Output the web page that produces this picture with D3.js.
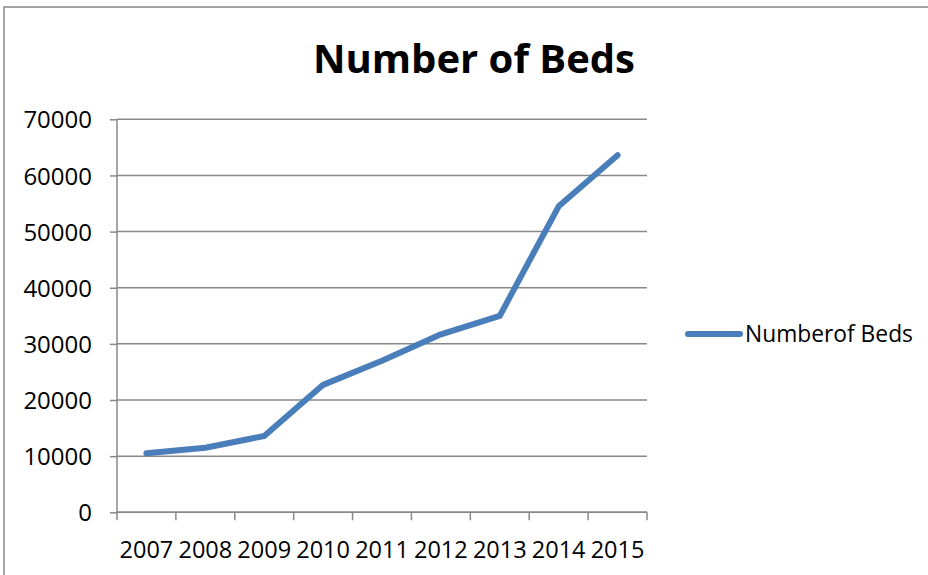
<!DOCTYPE html>
<html>
<head>
<meta charset="utf-8">
<script src="https://cdn.jsdelivr.net/npm/d3@7"></script>
<style>
  body { margin: 0; background: #fff; }
  text { font-family: "Open Sans", "Noto Sans", sans-serif; fill: #000; }
</style>
</head>
<body>
<svg id="chart" width="928" height="575"></svg>
<script>
// chart data
const years = ["2007", "2008", "2009", "2010", "2011", "2012", "2013", "2014", "2015"];
const beds = [10500, 11500, 13600, 22700, 27000, 31700, 35000, 54500, 63600];
const yTicks = [0, 10000, 20000, 30000, 40000, 50000, 60000, 70000];

const svg = d3.select("#chart");
const gridColor = "#888888";
const lineColor = "#4a7ebb";

// outer frame of the chart area
svg.append("rect")
    .attr("x", 4).attr("y", 7)
    .attr("width", 940).attr("height", 600)
    .attr("fill", "none")
    .attr("stroke", gridColor)
    .attr("stroke-width", 1.5);

const plotLeft = 117, plotRight = 647, plotTop = 119.3, plotBottom = 512.3;

const x = d3.scaleBand().domain(years).range([plotLeft, plotRight]);
const y = d3.scaleLinear().domain([0, 70000]).range([plotBottom, plotTop]);

// horizontal gridlines
svg.append("g")
    .selectAll("line")
    .data(yTicks)
    .join("line")
    .attr("x1", plotLeft).attr("x2", plotRight)
    .attr("y1", d => y(d)).attr("y2", d => y(d))
    .attr("stroke", gridColor)
    .attr("stroke-width", 1.5);

// y axis
const yAxis = svg.append("g")
    .attr("transform", `translate(${plotLeft},0)`)
    .call(d3.axisLeft(y).tickValues(yTicks).tickSize(7).tickPadding(18).tickFormat(d3.format("d")));
yAxis.selectAll("line, path").attr("stroke", gridColor).attr("stroke-width", 1.5);
yAxis.select(".domain").attr("d", `M0,${plotTop}V${plotBottom}`);
yAxis.selectAll("text")
    .attr("font-family", "Open Sans")
    .attr("font-size", 24)
    .attr("dy", "0.36em");

// x axis, ticks sit between categories
const xEdges = years.map(d => x(d)).concat([plotRight]);
const xAxis = svg.append("g");
xAxis.append("line")
    .attr("x1", plotLeft).attr("x2", plotRight)
    .attr("y1", plotBottom).attr("y2", plotBottom)
    .attr("stroke", gridColor).attr("stroke-width", 1.5);
xAxis.selectAll(".tick")
    .data(xEdges)
    .join("line")
    .attr("class", "tick")
    .attr("x1", d => d).attr("x2", d => d)
    .attr("y1", plotBottom).attr("y2", plotBottom + 8)
    .attr("stroke", gridColor).attr("stroke-width", 1.5);
xAxis.selectAll(".label")
    .data(years)
    .join("text")
    .attr("class", "label")
    .attr("x", d => x(d) + x.bandwidth() / 2)
    .attr("y", 558)
    .attr("text-anchor", "middle")
    .attr("font-size", 23.5)
    .text(d => d);

// the series line
const line = d3.line()
    .x((d, i) => x(years[i]) + x.bandwidth() / 2)
    .y(d => y(d));

svg.append("path")
    .datum(beds)
    .attr("d", line)
    .attr("fill", "none")
    .attr("stroke", lineColor)
    .attr("stroke-width", 6)
    .attr("stroke-linejoin", "round")
    .attr("stroke-linecap", "round");

// title
svg.append("text")
    .attr("x", 474)
    .attr("y", 73)
    .attr("text-anchor", "middle")
    .attr("font-size", 40)
    .attr("font-weight", "bold")
    .text("Number of Beds");

// legend
const legend = svg.append("g");
legend.append("line")
    .attr("x1", 688).attr("x2", 740)
    .attr("y1", 334).attr("y2", 334)
    .attr("stroke", lineColor)
    .attr("stroke-width", 6)
    .attr("stroke-linecap", "round");
legend.append("text")
    .attr("x", 745)
    .attr("y", 342)
    .attr("font-size", 22.8)
    .text("Numberof Beds");
</script>
</body>
</html>
